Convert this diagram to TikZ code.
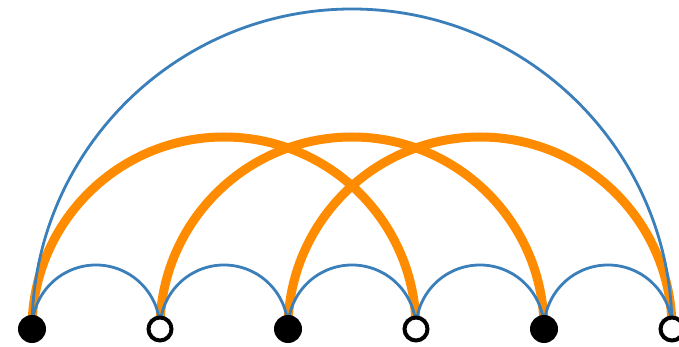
\documentclass[tikz,border=0pt]{standalone}
\definecolor{arcblue}{HTML}{3A7EBA}
\definecolor{arcorange}{HTML}{FF8C00}
\tikzset{
  fullnode/.style={circle,fill=black,inner sep=0pt,minimum size=28pt},
  opennode/.style={circle,draw=black,line width=4pt,fill=white,inner sep=0pt,minimum size=23pt},
  bluearc/.style={draw=arcblue,line width=2.8pt},
  orangearc/.style={draw=arcorange,line width=9pt},
}
\begin{document}
\begin{tikzpicture}[x=1pt,y=1pt]
\useasboundingbox (0,0) rectangle (679,347);
\coordinate (p1) at (32,18);
\coordinate (p2) at (160,18);
\coordinate (p3) at (288,18);
\coordinate (p4) at (416,18);
\coordinate (p5) at (544,18);
\coordinate (p6) at (672,18);
% orange arcs
\draw[orangearc] (p1) arc[start angle=180,end angle=0,radius=192];
\draw[orangearc] (p2) arc[start angle=180,end angle=0,radius=192];
\draw[orangearc] (p3) arc[start angle=180,end angle=0,radius=192];
% blue arcs
\draw[bluearc] (p1) arc[start angle=180,end angle=0,radius=320];
\draw[bluearc] (p1) arc[start angle=180,end angle=0,radius=64];
\draw[bluearc] (p2) arc[start angle=180,end angle=0,radius=64];
\draw[bluearc] (p3) arc[start angle=180,end angle=0,radius=64];
\draw[bluearc] (p4) arc[start angle=180,end angle=0,radius=64];
\draw[bluearc] (p5) arc[start angle=180,end angle=0,radius=64];
% nodes
\node[fullnode] (n1) at (p1) {};
\node[opennode] (n2) at (p2) {};
\node[fullnode] (n3) at (p3) {};
\node[opennode] (n4) at (p4) {};
\node[fullnode] (n5) at (p5) {};
\node[opennode] (n6) at (p6) {};
\end{tikzpicture}
\end{document}
